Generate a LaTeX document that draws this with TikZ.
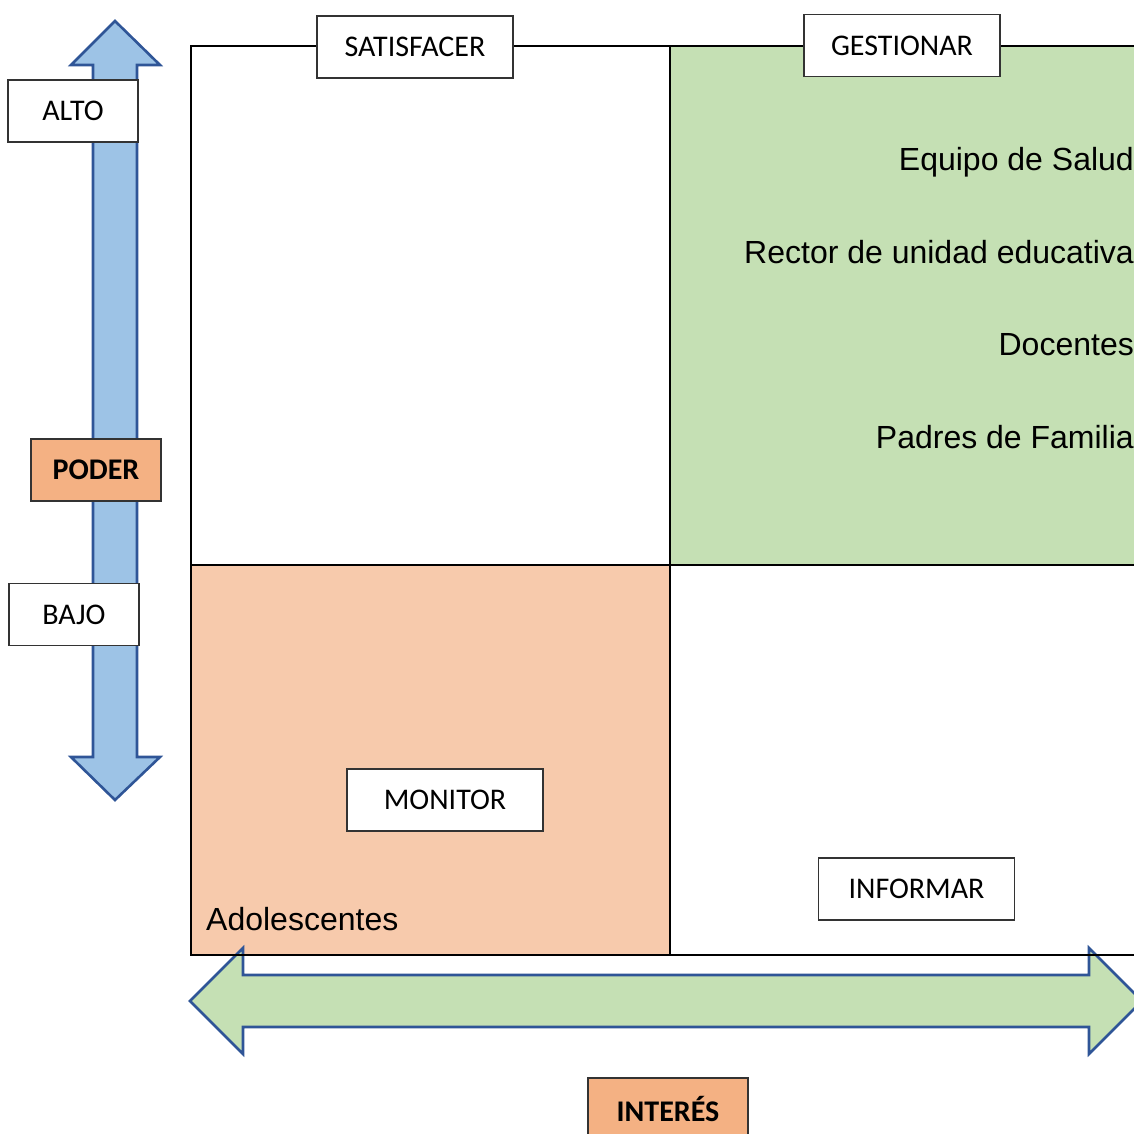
\documentclass[tikz,border=0pt]{standalone}
\usepackage{fontspec}
\setmainfont{Carlito}
\newfontfamily\arialfont{Liberation Sans}
\usetikzlibrary{positioning}

\definecolor{verde}{HTML}{C5E0B4}
\definecolor{salmon}{HTML}{F7CAAC}
\definecolor{naranja}{HTML}{F4B183}
\definecolor{celeste}{HTML}{9DC3E6}
\definecolor{azul}{HTML}{2F5597}

\tikzset{
  etiq/.style={draw=black!80, line width=1.3pt, fill=white, minimum width=196pt,
    minimum height=62pt, inner sep=0pt, font=\fontsize{30}{34}\selectfont},
  eje/.style={etiq, minimum width=130pt},
  titulo/.style={eje, fill=naranja, font=\fontsize{30}{34}\selectfont\bfseries},
  actor/.style={inner sep=0pt, font=\arialfont\fontsize{32}{38}\selectfont},
  flecha/.style={draw=azul, line width=2.6pt, line join=miter}
}

\begin{document}
\begin{tikzpicture}[x=1pt,y=-1pt]
  \clip (0,0) rectangle (1134,1133);
  % cuadrantes
  \fill[verde] (670,46) rectangle (1200,565);
  \fill[salmon] (191,565) rectangle (670,955);
  % flechas de bloque
  \draw[flecha, fill=celeste] (93,65) -- (71,65) -- (115,21) -- (160,65) -- (137,65)
    -- (137,757) -- (160,757) -- (115,800) -- (71,757) -- (93,757) -- cycle;
  \draw[flecha, fill=verde] (243,975) -- (243,948) -- (190,1001) -- (243,1054) -- (243,1027)
    -- (1089,1027) -- (1089,1054) -- (1142,1001) -- (1089,948) -- (1089,975) -- cycle;
  % marco
  \draw[line width=2pt] (1200,46) -- (191,46) -- (191,955) -- (1200,955);
  \draw[line width=2pt] (670,46) -- (670,955);
  \draw[line width=2pt] (191,565) -- (1200,565);

  \node[eje] at (73,111) (alto) {ALTO};
  \node[titulo] at (96,470) (poder) {PODER};
  \node[eje] at (74,614.5) (bajo) {BAJO};
  \node[etiq] at (415,47) (satisfacer) {SATISFACER};
  \node[etiq] at (902,45.5) (gestionar) {GESTIONAR};
  \node[etiq] at (445,800) (monitor) {MONITOR};
  \node[etiq] at (916.5,889) (informar) {INFORMAR};
  \node[titulo, minimum width=160pt] at (668,1109) (interes) {INTERÉS};

  \node[actor, anchor=base east] at (1134,170) (salud) {Equipo de Salud};
  \node[actor, anchor=base east] at (1134,263) (rector) {Rector de unidad educativa};
  \node[actor, anchor=base east] at (1134,355) (docentes) {Docentes};
  \node[actor, anchor=base east] at (1134,448) (padres) {Padres de Familia};
  \node[actor, anchor=base west] at (206,930) (adolesc) {Adolescentes};
\end{tikzpicture}
\end{document}
